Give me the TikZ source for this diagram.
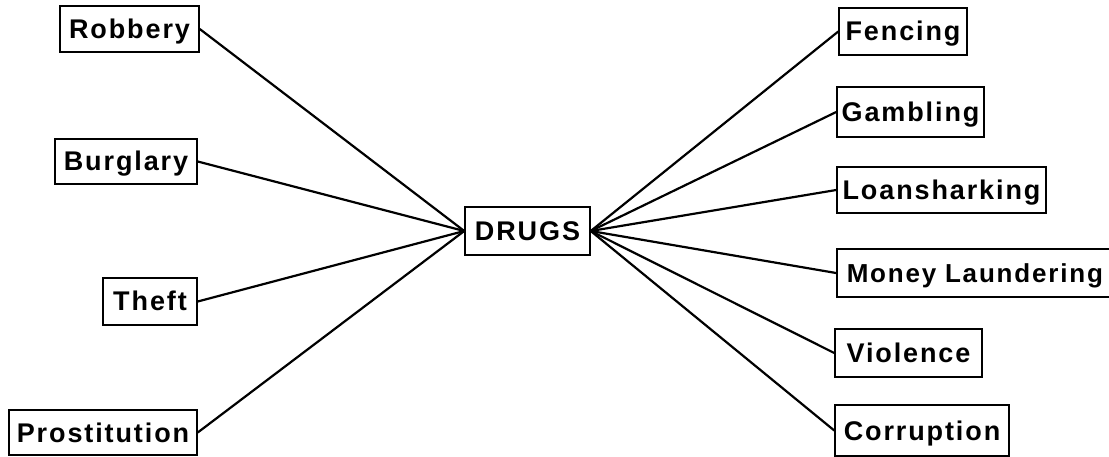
\documentclass[tikz,border=0pt]{standalone}
\usepackage{fontspec}
\setmainfont{Liberation Sans}[LetterSpace=7]
\begin{document}
\begin{tikzpicture}[x=1pt,y=-1pt,
  box/.style={draw,line width=1.5pt,inner sep=0pt,text height=19pt,text depth=0pt,
    font=\fontsize{27}{30}\selectfont\bfseries},
  link/.style={line width=2.2pt}]
\useasboundingbox (0,0) rectangle (1109,457);
% left
\node[box,minimum width=139pt,minimum height=46pt] (rob) at (129.5,29) {Robbery};
\node[box,minimum width=142pt,minimum height=45pt] (bur) at (126,161.5) {Burglary};
\node[box,minimum width=94pt,minimum height=47pt] (thf) at (150,301.5) {Theft};
\node[box,minimum width=188pt,minimum height=45pt] (pro) at (103,432.5) {Prostitution};
% centre
\node[box,minimum width=125pt,minimum height=48pt] (drg) at (527.5,231) {DRUGS};
% right
\node[box,minimum width=128pt,minimum height=47pt] (fen) at (903,31.5) {Fencing};
\node[box,minimum width=147pt,minimum height=50pt] (gam) at (910.5,112) {Gambling};
\node[box,minimum width=209pt,minimum height=46pt] (loa) at (941.5,190) {Loansharking};
\node[box,anchor=west,inner xsep=10pt,text width=264pt,align=left,minimum height=48pt,
  font=\fontsize{26}{30}\selectfont\bfseries] (mon) at (836,273) {Money Laundering};
\node[box,minimum width=147pt,minimum height=48pt] (vio) at (908.5,353) {Violence};
\node[box,minimum width=174pt,minimum height=51pt] (cor) at (922,430.5) {Corruption};
% links
\foreach \n in {rob,bur,thf,pro} \draw[link] (\n.east) -- (drg.west);
\foreach \n in {fen,gam,loa,mon,vio,cor} \draw[link] (drg.east) -- (\n.west);
\end{tikzpicture}
\end{document}
